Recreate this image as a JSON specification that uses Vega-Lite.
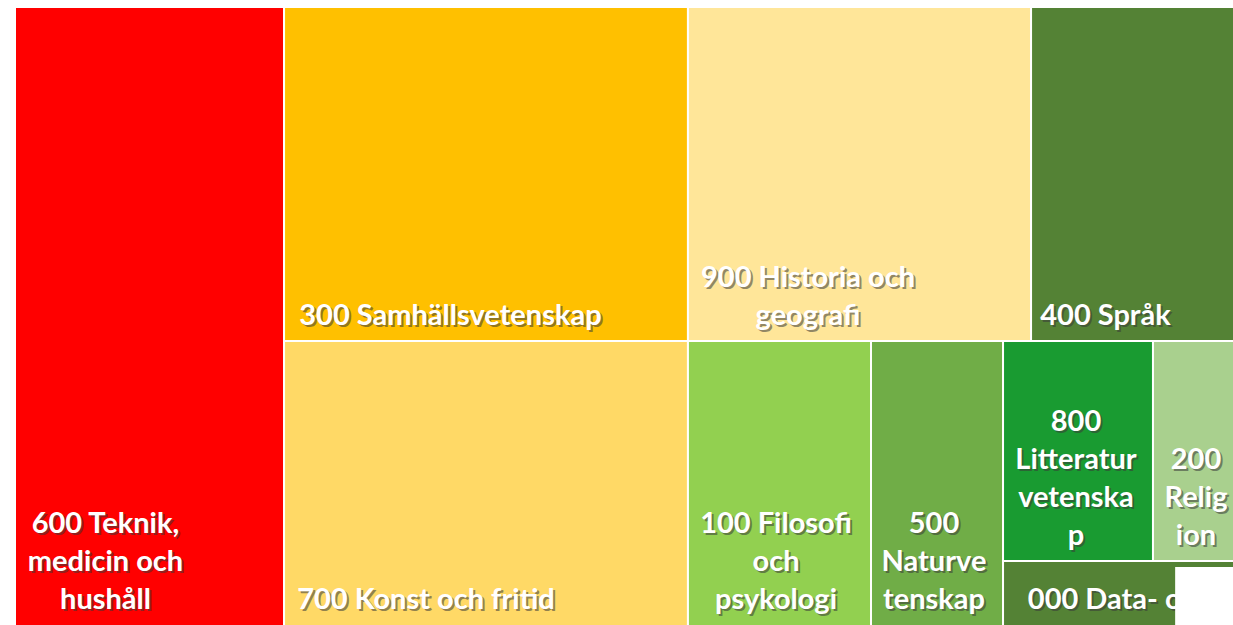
{
  "$schema": "https://vega.github.io/schema/vega-lite/v6.json",
  "width": 1218,
  "height": 618,
  "padding": {"left": 15, "top": 7, "right": 0, "bottom": 0},
  "autosize": "none",
  "background": "white",
  "config": {"view": {"stroke": null}},
  "datasets": {
    "tiles": [
      {"code": "600", "label": "600 Teknik,\nmedicin och\nhushåll", "x0": 0, "x1": 22.09, "y0": 0, "y1": 103, "lx": 7.43},
      {"code": "300", "label": "300 Samhällsvetenskap", "x0": 22.09, "x1": 55.25, "y0": 0, "y1": 54.05, "lx": 35.75},
      {"code": "700", "label": "700 Konst och fritid", "x0": 22.09, "x1": 55.25, "y0": 54.05, "y1": 103, "lx": 33.74},
      {"code": "900", "label": "900 Historia och\ngeografi", "x0": 55.25, "x1": 83.42, "y0": 0, "y1": 54.05, "lx": 65.11},
      {"code": "400", "label": "400 Språk", "x0": 83.42, "x1": 103, "y0": 0, "y1": 54.05, "lx": 89.53},
      {"code": "100", "label": "100 Filosofi\noch\npsykologi", "x0": 55.25, "x1": 70.28, "y0": 54.05, "y1": 103, "lx": 62.48},
      {"code": "500", "label": "500\nNaturve\ntenskap", "x0": 70.28, "x1": 81.12, "y0": 54.05, "y1": 103, "lx": 75.45},
      {"code": "800", "label": "800\nLitteratur\nvetenska\np", "x0": 81.12, "x1": 93.43, "y0": 54.05, "y1": 89.64, "lx": 87.11},
      {"code": "200", "label": "200\nRelig\nion", "x0": 93.43, "x1": 103, "y0": 54.05, "y1": 89.64, "lx": 96.96},
      {"code": "000", "label": "000 Data- och datavetenskap", "x0": 81.12, "x1": 103, "y0": 89.64, "y1": 103, "lx": 98.73}
    ],
    "mask": [
      {"x0": 95.25, "x1": 103, "y0": 90.6, "y1": 103}
    ]
  },
  "layer": [
    {
      "data": {"name": "tiles"},
      "mark": {"type": "rect", "stroke": "white", "strokeWidth": 2, "clip": true},
      "encoding": {
        "x": {"field": "x0", "type": "quantitative", "scale": {"domain": [0, 100], "nice": false, "zero": false}, "axis": null},
        "x2": {"field": "x1"},
        "y": {"field": "y0", "type": "quantitative", "scale": {"domain": [0, 100], "nice": false, "zero": false, "reverse": true}, "axis": null},
        "y2": {"field": "y1"},
        "color": {
          "field": "code", "type": "nominal", "legend": null,
          "scale": {
            "domain": ["600", "300", "700", "900", "400", "100", "500", "800", "200", "000"],
            "range": ["#FF0000", "#FFC000", "#FFD966", "#FFE699", "#548235", "#92D050", "#70AD47", "#199B31", "#A9D08E", "#548235"]
          }
        }
      }
    },
    {
      "data": {"name": "tiles"},
      "transform": [{"calculate": "min(datum.y1, 100) - (length(split(datum.label, '\\n')) - 1) * 6.149", "as": "ly"}],
      "mark": {"type": "text", "font": "Lato", "fontWeight": "bold", "fontSize": 29, "lineHeight": 38, "lineBreak": "\n", "align": "center", "baseline": "bottom", "dx": 2, "dy": -8, "color": "#3a3a3a", "opacity": 0.55},
      "encoding": {
        "x": {"field": "lx", "type": "quantitative"},
        "y": {"field": "ly", "type": "quantitative"},
        "text": {"field": "label"}
      }
    },
    {
      "data": {"name": "tiles"},
      "transform": [{"calculate": "min(datum.y1, 100) - (length(split(datum.label, '\\n')) - 1) * 6.149", "as": "ly"}],
      "mark": {"type": "text", "font": "Lato", "fontWeight": "bold", "fontSize": 29, "lineHeight": 38, "lineBreak": "\n", "align": "center", "baseline": "bottom", "dy": -10, "color": "white"},
      "encoding": {
        "x": {"field": "lx", "type": "quantitative"},
        "y": {"field": "ly", "type": "quantitative"},
        "text": {"field": "label"}
      }
    },
    {
      "data": {"name": "mask"},
      "mark": {"type": "rect", "color": "white", "clip": true},
      "encoding": {
        "x": {"field": "x0", "type": "quantitative"},
        "x2": {"field": "x1"},
        "y": {"field": "y0", "type": "quantitative"},
        "y2": {"field": "y1"}
      }
    }
  ]
}
